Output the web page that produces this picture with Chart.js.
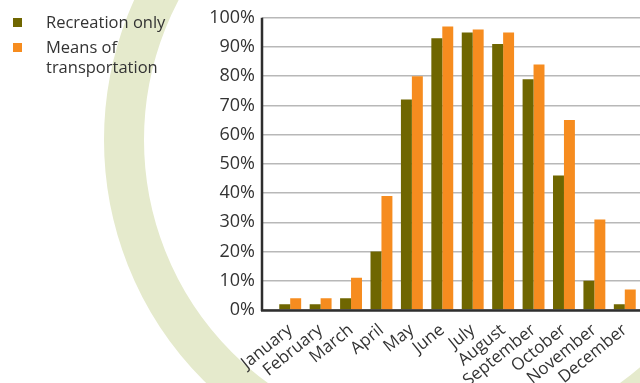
<!DOCTYPE html>
<html>
<head>
<meta charset="utf-8">
<script src="https://cdn.jsdelivr.net/npm/chart.js@4.4.0/dist/chart.umd.min.js"></script>
<style>
  body { margin: 0; background: #fff; }
  #wrap { position: relative; width: 640px; height: 383px; overflow: hidden; }
  #legend { position: absolute; left: 0; top: 0; font-family: "Open Sans", sans-serif; font-size: 16.5px; color: #333; }
  .item { position: absolute; left: 46px; line-height: 20px; white-space: nowrap; }
  .box { position: absolute; left: -33px; top: 6px; width: 9px; height: 9px; }
</style>
</head>
<body>
<div id="wrap">
  <canvas id="chart" width="640" height="383"></canvas>
  <div id="legend"></div>
</div>
<script>
const months = ["January", "February", "March", "April", "May", "June", "July",
  "August", "September", "October", "November", "December"];
const recreationOnly = [2, 2, 4, 20, 72, 93, 95, 91, 79, 46, 10, 2];
const meansOfTransport = [4, 4, 11, 39, 80, 97, 96, 95, 84, 65, 31, 7];
const seriesNames = ["Recreation only", "Means of\ntransportation"];
const seriesColors = ["#6f6600", "#f68c1f"];

const textColor = "#333";
const font = "Open Sans";

// pale green arc behind everything
const ringPlugin = {
  id: "ring",
  beforeDraw(c) {
    const ctx = c.ctx;
    ctx.save();
    ctx.beginPath();
    ctx.arc(444, 140, 320, 0, Math.PI * 2);
    ctx.strokeStyle = "#e5eacc";
    ctx.lineWidth = 40;
    ctx.stroke();
    ctx.restore();
  }
};

// axis lines sit a bit left of the first category
const axisPlugin = {
  id: "axes",
  afterDatasetsDraw(c) {
    const ctx = c.ctx;
    const area = c.chartArea;
    const x0 = area.left - 13;
    ctx.save();
    ctx.strokeStyle = "#2e2e2e";
    ctx.lineWidth = 2.5;
    ctx.beginPath();
    ctx.moveTo(x0, area.top);
    ctx.lineTo(x0, area.bottom + 1);
    ctx.moveTo(x0 - 1, area.bottom + 0.5);
    ctx.lineTo(c.width, area.bottom + 0.5);
    ctx.stroke();
    ctx.restore();
  }
};

new Chart(document.getElementById("chart"), {
  type: "bar",
  data: {
    labels: months,
    datasets: [
      { label: seriesNames[0], data: recreationOnly, backgroundColor: seriesColors[0] },
      { label: seriesNames[1], data: meansOfTransport, backgroundColor: seriesColors[1] }
    ]
  },
  options: {
    responsive: false,
    animation: false,
    barPercentage: 1,
    categoryPercentage: 0.72,
    layout: { padding: { top: 10, right: 0, left: 0, bottom: 0 } },
    plugins: { legend: { display: false }, tooltip: { enabled: false } },
    scales: {
      x: {
        grid: { display: false },
        border: { display: false },
        ticks: {
          color: textColor,
          font: { family: font, size: 17 },
          minRotation: 39,
          maxRotation: 39,
          autoSkip: false,
          padding: 2
        },
        afterFit(s) { s.height = 73; }
      },
      y: {
        min: 0,
        max: 100,
        border: { display: false },
        grid: { color: "#b8b8b8", lineWidth: 1.5, tickLength: 13 },
        ticks: {
          stepSize: 10,
          callback: v => v + "%",
          color: textColor,
          font: { family: font, size: 18 },
          padding: 7
        },
        afterFit(s) { s.width = 275; }
      }
    }
  },
  plugins: [ringPlugin, axisPlugin]
});

// legend on the left
const legend = document.getElementById("legend");
const tops = [11.6, 36.6];
seriesNames.forEach((name, i) => {
  const item = document.createElement("div");
  item.className = "item";
  item.style.top = tops[i] + "px";
  item.innerHTML = name.replace("\n", "<br>") +
    `<span class="box" style="background:${seriesColors[i]}"></span>`;
  legend.appendChild(item);
});
</script>
</body>
</html>
